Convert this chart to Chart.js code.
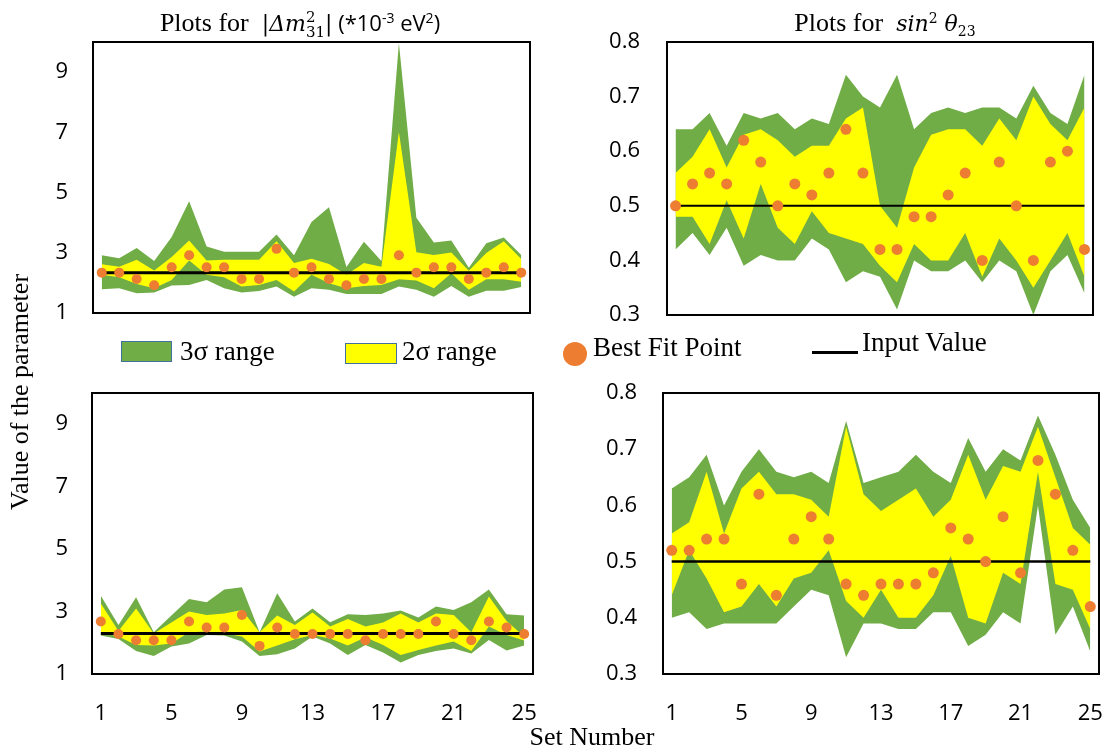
<!DOCTYPE html>
<html><head><meta charset="utf-8">
<script src="https://cdn.jsdelivr.net/npm/chart.js@4.4.1/dist/chart.umd.min.js"></script>
<style>
html,body{margin:0;padding:0;background:#fff;}
body{width:1112px;height:751px;position:relative;overflow:hidden;}
canvas{position:absolute;}
.txt{position:absolute;white-space:nowrap;color:#000;font-family:"Liberation Serif","Times New Roman",serif;}
.title{top:0;height:36px;line-height:36px;text-align:center;font-size:26px;}
.m{font-family:"DejaVu Serif",serif;font-style:italic;font-size:22px;}
.sans{font-family:"Open Sans",sans-serif;font-size:22px;}
.ss{display:inline-block;vertical-align:-6px;line-height:15px;font-size:15px;text-align:left;font-style:normal;}
.ss span{display:block;}
.sw{position:absolute;box-sizing:border-box;border:1.5px solid #41719C;}
.leg{font-size:27px;line-height:30px;}
</style></head>
<body>
<canvas id="cTL" width="545" height="300" style="left:0;top:28px"></canvas>
<canvas id="cTR" width="564" height="300" style="left:548px;top:28px"></canvas>
<canvas id="cBL" width="548" height="373" style="left:0;top:378px"></canvas>
<canvas id="cBR" width="564" height="373" style="left:548px;top:378px"></canvas>

<div class="txt title" style="left:0;width:600px;">Plots for&nbsp; <span class="m">|Δ<i>m</i><span class="ss"><span>2</span><span>31</span></span>|</span><span class="sans"> (*10<sup style="font-size:14px">-3</sup> eV<sup style="font-size:14px">2</sup>)</span></div>
<div class="txt title" style="left:660px;width:450px;">Plots for&nbsp; <span class="m">sin<sup style="font-size:14px;font-style:normal">2</sup> θ<sub style="font-size:14px;font-style:normal">23</sub></span></div>

<div class="sw" style="left:121px;top:341px;width:51px;height:21px;background:#70AD47"></div>
<div class="txt leg" style="left:180px;top:336px;">3σ range</div>
<div class="sw" style="left:345px;top:343px;width:52px;height:21px;background:#FFFF00"></div>
<div class="txt leg" style="left:402px;top:336px;">2σ range</div>
<div style="position:absolute;left:563px;top:342px;width:24px;height:24px;border-radius:50%;background:#ED7D31"></div>
<div class="txt leg" style="left:593px;top:332px;">Best Fit Point</div>
<div style="position:absolute;left:812px;top:351px;width:46px;height:2.5px;background:#000"></div>
<div class="txt leg" style="left:862px;top:327px;">Input Value</div>

<div class="txt" style="left:20px;top:392px;font-size:26px;transform:translate(-50%,-50%) rotate(-90deg);">Value of the parameter</div>
<div class="txt" style="left:592px;top:737px;font-size:26px;transform:translate(-50%,-50%);">Set Number</div>

<script>
// ---- data ----
const setNumbers = [1,2,3,4,5,6,7,8,9,10,11,12,13,14,15,16,17,18,19,20,21,22,23,24,25];
const xTickLabels = [1,5,9,13,17,21,25];
const dmTicks = [1,3,5,7,9];
const thTicks = [0.3,0.4,0.5,0.6,0.7,0.8];

// top-left: |Δm²31| (×10^-3 eV²)
const tlUp3  = [2.92,2.82,3.16,2.73,3.52,4.71,3.21,3.03,3.03,3.03,3.61,2.92,4.02,4.51,2.53,3.37,2.73,9.97,4.16,3.34,3.41,2.50,3.32,3.51,2.93];
const tlUp2  = [2.62,2.54,2.77,2.41,2.86,3.41,2.74,2.77,2.77,2.77,3.38,2.66,2.80,2.63,2.27,2.66,2.54,7.01,3.02,2.93,3.01,2.40,2.99,3.38,2.79];
const tlLo2  = [2.27,2.19,1.96,1.82,2.10,2.74,2.27,2.19,1.88,1.93,2.10,1.71,2.27,1.99,1.82,1.90,1.93,2.12,2.08,1.82,2.32,1.77,2.12,2.12,2.04];
const tlLo3  = [1.79,1.82,1.66,1.68,1.91,1.93,2.10,1.82,1.68,1.73,1.88,1.54,1.82,1.77,1.63,1.63,1.63,1.88,1.77,1.54,1.90,1.54,1.74,1.74,1.86];
const tlBest = [2.34,2.34,2.13,1.92,2.52,2.92,2.52,2.52,2.13,2.13,3.13,2.34,2.52,2.13,1.92,2.13,2.13,2.92,2.34,2.52,2.52,2.13,2.34,2.52,2.34];
const tlInput = 2.34;

// top-right: sin²θ23
const trUp3  = [0.64,0.64,0.67,0.61,0.67,0.66,0.67,0.64,0.66,0.65,0.74,0.70,0.68,0.74,0.64,0.67,0.68,0.67,0.68,0.68,0.66,0.72,0.67,0.65,0.74];
const trUp2  = [0.56,0.59,0.64,0.57,0.63,0.64,0.62,0.59,0.61,0.61,0.66,0.68,0.50,0.46,0.57,0.63,0.64,0.64,0.61,0.66,0.62,0.70,0.65,0.62,0.68];
const trLo2  = [0.48,0.48,0.43,0.51,0.44,0.54,0.46,0.43,0.49,0.45,0.44,0.43,0.39,0.36,0.43,0.40,0.40,0.45,0.37,0.44,0.40,0.35,0.40,0.45,0.37];
const trLo3  = [0.42,0.45,0.41,0.46,0.39,0.41,0.40,0.40,0.44,0.42,0.36,0.38,0.37,0.31,0.40,0.38,0.38,0.40,0.36,0.40,0.38,0.30,0.38,0.41,0.34];
const trBest = [0.50,0.54,0.56,0.54,0.62,0.58,0.50,0.54,0.52,0.56,0.64,0.56,0.42,0.42,0.48,0.48,0.52,0.56,0.40,0.58,0.50,0.40,0.58,0.60,0.42];
const trInput = 0.5;

// bottom-left: |Δm²31|
const blUp3  = [3.51,2.57,3.46,2.34,2.87,3.40,3.30,3.71,3.78,2.34,3.59,2.68,3.10,2.66,2.91,2.89,2.94,3.03,2.81,3.16,3.05,3.30,3.71,2.91,2.87];
const blUp2  = [3.26,2.38,3.10,2.30,2.65,3.00,2.89,2.94,3.05,2.34,2.87,2.57,2.97,2.52,2.76,2.52,2.65,2.94,2.65,2.94,2.89,2.34,3.48,2.70,2.20];
const blLo2  = [2.34,2.20,1.93,1.91,1.98,2.34,2.36,2.30,2.20,1.72,1.91,2.11,2.25,2.14,1.91,2.18,1.93,1.61,1.77,1.91,2.04,1.74,2.52,2.25,2.07];
const blLo3  = [2.23,2.12,1.74,1.58,1.88,1.98,2.25,2.23,2.04,1.58,1.63,1.82,2.20,1.98,1.61,1.93,1.69,1.37,1.61,1.74,1.82,1.66,2.09,1.75,1.91];
const blBest = [2.68,2.28,2.08,2.08,2.08,2.68,2.49,2.49,2.89,1.90,2.49,2.28,2.28,2.28,2.28,2.08,2.28,2.28,2.28,2.68,2.28,2.08,2.68,2.49,2.28];
const blInput = 2.30;

// bottom-right: sin²θ23
const brUp3  = [0.63,0.65,0.69,0.60,0.66,0.70,0.66,0.65,0.66,0.64,0.75,0.64,0.65,0.66,0.69,0.66,0.64,0.72,0.66,0.70,0.68,0.76,0.69,0.61,0.56];
const brUp2  = [0.55,0.57,0.66,0.55,0.63,0.66,0.62,0.62,0.61,0.58,0.74,0.62,0.59,0.61,0.63,0.58,0.61,0.69,0.61,0.67,0.66,0.74,0.65,0.56,0.53];
const brLo2  = [0.44,0.52,0.47,0.41,0.42,0.46,0.42,0.47,0.48,0.52,0.43,0.40,0.45,0.40,0.40,0.44,0.51,0.40,0.39,0.48,0.46,0.66,0.46,0.45,0.38];
const brLo3  = [0.40,0.41,0.38,0.39,0.39,0.39,0.39,0.42,0.45,0.44,0.33,0.39,0.39,0.38,0.38,0.41,0.41,0.35,0.37,0.41,0.39,0.60,0.37,0.42,0.34];
const brBest = [0.52,0.52,0.54,0.54,0.46,0.62,0.44,0.54,0.58,0.54,0.46,0.44,0.46,0.46,0.46,0.48,0.56,0.54,0.50,0.58,0.48,0.68,0.62,0.52,0.42];
const brInput = 0.5;

// ---- styles ----
const GREEN = '#70AD47', YELLOW = '#FFFF00', ORANGE = '#ED7D31';
const TICKFONT = {family:'"Open Sans", sans-serif', size:22};

const plotBox = {
  id:'plotBox',
  afterDraw(chart){
    const {ctx, chartArea:a} = chart;
    ctx.save(); ctx.strokeStyle = '#000'; ctx.lineWidth = 2;
    ctx.strokeRect(a.left, a.top, a.right - a.left, a.bottom - a.top);
    ctx.restore();
  }
};

function makeChart(id, s){
  const none = 'rgba(0,0,0,0)';
  return new Chart(document.getElementById(id), {
    type:'line',
    data:{
      labels:setNumbers,
      datasets:[
        {label:'3σ range', data:s.up3, fill:1, backgroundColor:GREEN, borderColor:none, borderWidth:0, pointRadius:0, order:4},
        {label:'3σ lower', data:s.lo3, fill:false, borderColor:none, borderWidth:0, pointRadius:0, order:4},
        {label:'2σ range', data:s.up2, fill:3, backgroundColor:YELLOW, borderColor:none, borderWidth:0, pointRadius:0, order:3},
        {label:'2σ lower', data:s.lo2, fill:false, borderColor:none, borderWidth:0, pointRadius:0, order:3},
        {label:'Input Value', data:setNumbers.map(() => s.input), borderColor:'#000', borderWidth:s.lw, pointRadius:0, fill:false, order:2},
        {label:'Best Fit Point', data:s.best, showLine:false, pointRadius:s.r, pointHoverRadius:s.r, pointBackgroundColor:ORANGE, pointBorderWidth:0, borderColor:ORANGE, order:1}
      ]
    },
    options:{
      responsive:false, animation:false, devicePixelRatio:1,
      layout:{padding:s.pad},
      plugins:{legend:{display:false}, tooltip:{enabled:false}, title:{display:false}},
      elements:{line:{tension:0}},
      scales:{
        x:{type:'category', offset:true, display:s.showX,
           afterFit(sc){ sc.height = s.showX ? 60 : 0; sc.paddingLeft = 0; sc.paddingRight = 0; },
           grid:{display:false, drawTicks:false}, border:{display:false},
           ticks:{autoSkip:false, maxRotation:0, padding:27, color:'#000', font:TICKFONT,
             callback(v){ const lab = this.getLabelForValue(v); return xTickLabels.includes(Number(lab)) ? String(lab) : null; }}},
        y:{type:'linear', min:s.min, max:s.max,
           afterFit(sc){ sc.width = s.yW; sc.paddingTop = 0; sc.paddingBottom = 0; },
           afterBuildTicks(sc){ sc.ticks = s.ticks.map(v => ({value:v})); },
           grid:{display:false, drawTicks:false}, border:{display:false},
           ticks:{padding:s.tp, color:'#000', font:TICKFONT, callback:v => s.fmt(v)}}
      }
    },
    plugins:[plotBox]
  });
}

const fmtInt = v => String(Math.round(v));
const fmt1 = v => v.toFixed(1);

makeChart('cTL', {up3:tlUp3, up2:tlUp2, lo2:tlLo2, lo3:tlLo3, best:tlBest, input:tlInput,
  min:1, max:10, ticks:dmTicks, fmt:fmtInt, showX:false, yW:93, tp:25, lw:3, r:5,
  pad:{left:0, right:15, top:14, bottom:15}});
makeChart('cTR', {up3:trUp3, up2:trUp2, lo2:trLo2, lo3:trLo3, best:trBest, input:trInput,
  min:0.3, max:0.8, ticks:thTicks, fmt:fmt1, showX:false, yW:119, tp:27, lw:2, r:5.5,
  pad:{left:0, right:19, top:14, bottom:13}});
makeChart('cBL', {up3:blUp3, up2:blUp2, lo2:blLo2, lo3:blLo3, best:blBest, input:blInput,
  min:1, max:10, ticks:dmTicks, fmt:fmtInt, showX:true, yW:92, tp:24, lw:3, r:5,
  pad:{left:0, right:15, top:15, bottom:17}});
makeChart('cBR', {up3:brUp3, up2:brUp2, lo2:brLo2, lo3:brLo3, best:brBest, input:brInput,
  min:0.3, max:0.8, ticks:thTicks, fmt:fmt1, showX:true, yW:115, tp:26, lw:2.5, r:5.5,
  pad:{left:0, right:13, top:15, bottom:17}});
</script>
</body></html>
